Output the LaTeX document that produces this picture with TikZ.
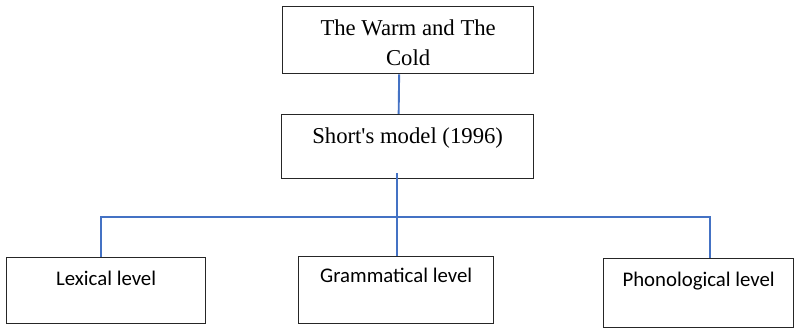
\documentclass[tikz,border=0pt]{standalone}
\usepackage{fontspec}
\setmainfont{Liberation Serif}
\newfontfamily\carlito{Carlito}
\usetikzlibrary{positioning}
\definecolor{linkblue}{RGB}{68,114,196}

\begin{document}
\begin{tikzpicture}[
    x=1pt, y=-1pt,
    box/.style={
        draw=black!85,
        line width=1.3pt,
        inner sep=0pt,
        anchor=north west,
        align=center
    },
    titlebox/.style={box, font=\fontsize{22.7}{30}\selectfont},
    levelbox/.style={box, font=\carlito\fontsize{20.8}{25}\selectfont},
    link/.style={draw=linkblue, line width=1.9pt}
]

\useasboundingbox (0,0) rectangle (795,328);

\node[titlebox, minimum width=251pt, text height=59pt, text depth=8pt]
    (warm) at (282,6) {The Warm and The\\ Cold};
\node[titlebox, minimum width=252pt, text height=29pt, text depth=35pt]
    (model) at (281,114) {Short\textquotesingle s model (1996)};

\node[levelbox, minimum width=199pt, text height=28pt, text depth=38pt]
    (lex) at (6,257) {Lexical level};
\node[levelbox, minimum width=195pt, text height=26pt, text depth=41pt]
    (gram) at (298,256) {Grammatical level};
\node[levelbox, minimum width=190pt, text height=28pt, text depth=41pt]
    (phon) at (603,258) {Phonological level};

\coordinate (fork) at (397,217);

\draw[link] ([xshift=-9pt]warm.south) -- ([xshift=-9pt]model.north);
\draw[link] (fork |- model.south) ++(0,-6) -- (fork |- gram.north);
\draw[link] ([xshift=-5pt]lex.north) |- (fork) -| ([xshift=11pt]phon.north);

\end{tikzpicture}
\end{document}
